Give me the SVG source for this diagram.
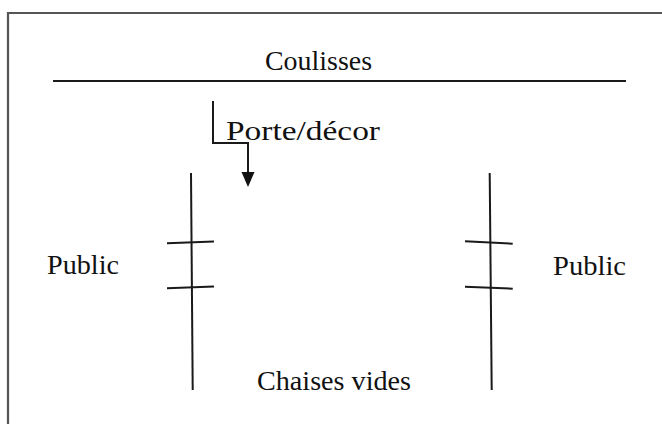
<svg xmlns="http://www.w3.org/2000/svg" width="662" height="424" viewBox="0 0 662 424">
  <style>
    text { font-family: 'Liberation Serif', 'Times New Roman', serif; font-size: 28px; fill: #111; }
    .ln { stroke: #1a1a1a; stroke-width: 2; fill: none; }
  </style>
  <rect x="0" y="0" width="662" height="424" fill="#ffffff"/>
  <g id="frame">
    <path d="M8,430 L8,13 L670,13" fill="none" stroke="#555" stroke-width="2.2"/>
  </g>
  <g id="coulisses">
    <line class="ln" x1="53" y1="81" x2="626" y2="81" stroke="#333"/>
    <text x="265" y="70" textLength="107" lengthAdjust="spacingAndGlyphs">Coulisses</text>
  </g>
  <g id="porte">
    <text x="226" y="140" textLength="154" lengthAdjust="spacingAndGlyphs">Porte/décor</text>
  </g>
  <g id="left-wall">
    <line class="ln" x1="191" y1="173" x2="192.7" y2="390"/>
    <line class="ln" x1="167" y1="243.3" x2="214" y2="241.5"/>
    <line class="ln" x1="167" y1="288.3" x2="214" y2="286.5"/>
  </g>
  <g id="right-wall">
    <line class="ln" x1="489.7" y1="173" x2="491.7" y2="390"/>
    <line class="ln" x1="465" y1="241.3" x2="512.7" y2="243.7"/>
    <line class="ln" x1="465" y1="286.7" x2="512.7" y2="288.7"/>
  </g>
  <g id="public-left">
    <text x="47" y="274" textLength="72" lengthAdjust="spacingAndGlyphs">Public</text>
  </g>
  <g id="public-right">
    <text x="553" y="275" textLength="73" lengthAdjust="spacingAndGlyphs">Public</text>
  </g>
  <g id="chaises">
    <text x="257" y="390" textLength="154" lengthAdjust="spacingAndGlyphs">Chaises vides</text>
  </g>
  <g id="connectors">
    <path class="ln" d="M213,101 L213,143 L248,143 L248,172"/>
    <path d="M241.5,172 L254.5,172 L248,187 Z" fill="#111"/>
  </g>
</svg>
